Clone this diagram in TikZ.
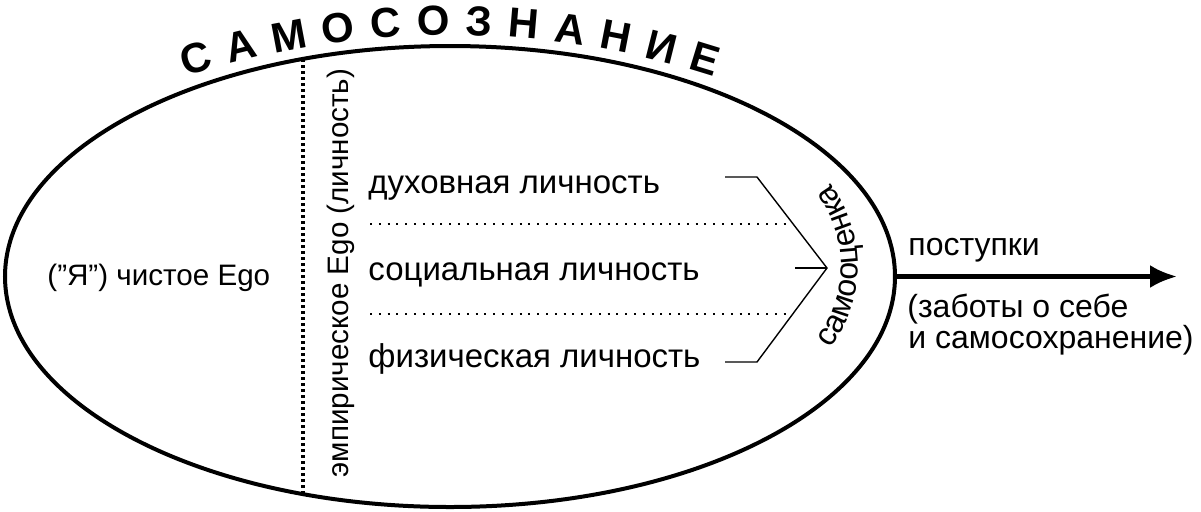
\documentclass[tikz,border=0pt]{standalone}
\usepackage{fontspec}
\setmainfont{Liberation Sans}
\usetikzlibrary{shapes.geometric,arrows.meta,decorations.text}

\newcommand\ttlfont{\fontsize{21}{24}\selectfont\bfseries}
\newcommand\estfont{\fontsize{16}{18}\selectfont}

\begin{document}
\begin{tikzpicture}[
  x=0.5pt, y=0.5pt,
  oval/.style={draw, ellipse, line width=2pt, minimum width=445pt, minimum height=230.5pt, inner sep=0pt},
  lbl/.style={font=\fontsize{16.5}{18}\selectfont, inner sep=0pt, anchor=base west},
  side/.style={font=\fontsize{16}{18}\selectfont, inner sep=0pt, anchor=base west},
  ego/.style={font=\fontsize{14.8}{17}\selectfont, inner sep=0pt},
  arrow/.style={-{Latex[length=13.5pt, width=11.5pt]}, line width=2.2pt},
  bracket/.style={line width=0.7pt},
  sep/.style={line width=1pt, dash pattern=on 1pt off 3.4pt},
  split/.style={line width=1.6pt, dash pattern=on 1.6pt off 1.4pt}
]
\useasboundingbox (0,0) rectangle (1201,-511);

% Self-consciousness oval
\node[oval] (soul) at (450,-276.5) {};

% Title along the upper arc
\path[decorate, decoration={text along path, text align=fit to path,
  text={|\ttlfont|САМОСОЗНАНИЕ}}]
  ([shift={(108:427.5pt)}]450,-890) arc[start angle=108, end angle=72, radius=427.5pt];

% Pure Ego (left part)
\node[ego, anchor=base west] (pure) at (47,-285) {(”Я”) чистое Ego};

% Dotted split and empirical Ego
\coordinate (splittop) at (303,-59);
\coordinate (splitbot) at (303,-494);
\draw[split] (splittop) -- (splitbot);
\node[ego, rotate=90, anchor=base] (empir) at (348,-273) {эмпирическое Ego (личность)};

% Three personalities
\node[lbl] (spirit) at (368,-193) {духовная личность};
\node[lbl] (social) at (368,-280) {социальная личность};
\node[lbl] (body)   at (368,-367) {физическая личность};

% Dotted separators
\coordinate (sepa) at (370,-224);
\coordinate (sepb) at (790,-224);
\coordinate (sepc) at (370,-314);
\coordinate (sepd) at (790,-314);
\draw[sep] (sepa) -- (sepb);
\draw[sep] (sepc) -- (sepd);

% Bracket into self-esteem
\coordinate (bra)   at (725,-177);
\coordinate (brb)   at (757,-177);
\coordinate (brtip) at (827,-268);
\coordinate (brc)   at (757,-362);
\coordinate (brd)   at (725,-362);
\coordinate (brmid) at (795,-268);
\draw[bracket] (bra) -- (brb) -- (brtip) -- (brc) -- (brd);
\draw[bracket] (brmid) -- (brtip);

% Self-esteem along the inner arc
\path[decorate, decoration={text along path, text align=center,
  text={|\estfont|самооценка}}]
  ([shift={(-40:68pt)}]722,-266) arc[start angle=-40, end angle=40, radius=68pt];

% Actions
\coordinate (tip) at (1177,-276.5);
\draw[arrow] (soul.east) -- (tip);
\node[side] (acts) at (908,-255) {поступки};
\node[side] (care) at (907,-317) {(заботы о себе};
\node[side] (keep) at (908,-348) {и самосохранение)};

\end{tikzpicture}
\end{document}
